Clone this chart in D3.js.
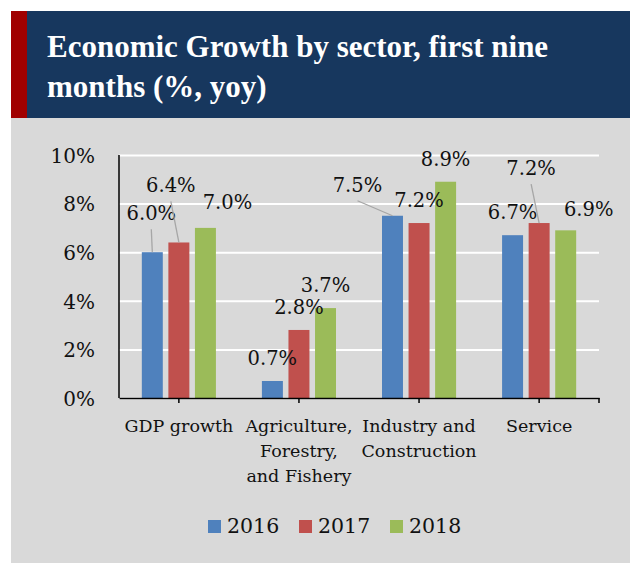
<!DOCTYPE html>
<html>
<head>
<meta charset="utf-8">
<script src="https://cdn.jsdelivr.net/npm/d3@7"></script>
<style>
  body { margin: 0; background: #fff; }
  svg { display: block; }
</style>
</head>
<body>
<svg id="chart"></svg>
<script>
// data
const categories = ['GDP growth', 'Agriculture', 'Industry', 'Service'];
const categoryLines = [
  ['GDP growth'],
  ['Agriculture,', 'Forestry,', 'and Fishery'],
  ['Industry and', 'Construction'],
  ['Service']
];
const years = ['2016', '2017', '2018'];
const values2016 = [6.0, 0.7, 7.5, 6.7];
const values2017 = [6.4, 2.8, 7.2, 7.2];
const values2018 = [7.0, 3.7, 8.9, 6.9];
const yTicks = [0, 2, 4, 6, 8, 10];

// manual label nudges [dx, dy] in px, per year then category
const labelNudge = [
  [[-1, -16], [0, 0], [-35, -8], [0, 0]],
  [[-8, -34], [0, 0], [0, 0], [-8, -32]],
  [[22, -3], [0, 0], [0, 0], [23, 2]]
];

const colors = ['#4f81bd', '#c0504d', '#9bbb59'];
const W = 630, H = 563;
const font = 'DejaVu Serif, serif';

const svg = d3.select('#chart').attr('width', W).attr('height', H);

// panel + title band
svg.append('rect').attr('x', 11).attr('y', 118).attr('width', W - 11).attr('height', H - 118).attr('fill', '#d9d9d9');
svg.append('rect').attr('x', 11).attr('y', 11).attr('width', W - 11).attr('height', 107).attr('fill', '#17375e');
svg.append('rect').attr('x', 11).attr('y', 11).attr('width', 16).attr('height', 107).attr('fill', '#a00000');

const title = svg.append('text')
  .attr('fill', '#fff')
  .attr('font-family', 'Liberation Serif, serif')
  .attr('font-weight', 'bold')
  .attr('font-size', 31);
title.append('tspan').attr('x', 47).attr('y', 57).text('Economic Growth by sector, first nine');
title.append('tspan').attr('x', 47).attr('y', 97).text('months (%, yoy)');

const margin = { left: 119, right: 599, top: 155, bottom: 398 };

const x0 = d3.scaleBand()
  .domain(categories)
  .range([margin.left, margin.right])
  .paddingInner(0.383)
  .paddingOuter(0.19);

const x1 = d3.scaleBand()
  .domain(years)
  .range([0, x0.bandwidth()])
  .paddingInner(0.21);

const y = d3.scaleLinear()
  .domain([0, 10])
  .range([margin.bottom, margin.top]);

// gridlines + y labels
const yAxis = svg.append('g')
  .attr('transform', `translate(${margin.left},0)`)
  .call(d3.axisLeft(y).tickValues(yTicks).tickFormat(d => d + '%')
    .tickSize(-(margin.right - margin.left)).tickPadding(24));
yAxis.select('.domain').remove();
yAxis.selectAll('.tick line').attr('stroke', '#fff').attr('stroke-width', 2);
yAxis.selectAll('.tick text')
  .attr('font-family', font).attr('font-size', 20).attr('fill', '#111')
  .attr('dy', '0.36em');

// bars
const series = [values2016, values2017, values2018];
const groups = svg.append('g').selectAll('g')
  .data(series)
  .join('g')
  .attr('fill', (d, i) => colors[i]);

groups.selectAll('rect')
  .data((vals, si) => vals.map((v, ci) => ({ v, ci, si })))
  .join('rect')
  .attr('x', d => x0(categories[d.ci]) + x1(years[d.si]))
  .attr('y', d => y(d.v))
  .attr('width', x1.bandwidth())
  .attr('height', d => y(0) - y(d.v));

// axis lines
svg.append('line')
  .attr('x1', margin.left).attr('x2', margin.left)
  .attr('y1', margin.top).attr('y2', margin.bottom)
  .attr('stroke', '#000').attr('stroke-width', 1.5);

const xAxis = svg.append('g')
  .attr('transform', `translate(0,${margin.bottom})`)
  .call(d3.axisBottom(x0).tickSize(5).tickSizeOuter(0).tickFormat(''));
xAxis.select('.domain').attr('stroke', '#000').attr('stroke-width', 1.5);
xAxis.selectAll('.tick line').attr('stroke', '#000').attr('stroke-width', 1.5);
xAxis.append('line')
  .attr('x1', margin.right).attr('x2', margin.right)
  .attr('y1', 0).attr('y2', 5)
  .attr('stroke', '#000').attr('stroke-width', 1.5);

// category labels
const catLabels = svg.append('g')
  .attr('font-family', font).attr('font-size', 17.5).attr('fill', '#111')
  .attr('text-anchor', 'middle');
categories.forEach((c, i) => {
  const t = catLabels.append('text').attr('y', margin.bottom + 34);
  categoryLines[i].forEach((line, li) => {
    t.append('tspan')
      .attr('x', x0(c) + x0.bandwidth() / 2)
      .attr('dy', li === 0 ? 0 : 25)
      .text(line);
  });
});

// data labels with leader lines
const labels = svg.append('g');
series.forEach((vals, si) => {
  vals.forEach((v, ci) => {
    const bx = x0(categories[ci]) + x1(years[si]) + x1.bandwidth() / 2;
    const by = y(v);
    const [dx, dy] = labelNudge[si][ci];
    const lx = bx + dx, ly = by - 16 + dy;
    if (dy < -5) {
      labels.append('line')
        .attr('x1', lx).attr('y1', ly + 9)
        .attr('x2', bx).attr('y2', by)
        .attr('stroke', '#a6a6a6').attr('stroke-width', 1.3);
    }
    labels.append('text')
      .attr('x', lx).attr('y', ly)
      .attr('text-anchor', 'middle')
      .attr('font-family', font).attr('font-size', 19.5).attr('fill', '#111')
      .text(v.toFixed(1) + '%');
  });
});

// legend
const legend = svg.append('g').attr('font-family', font).attr('font-size', 20.5).attr('fill', '#111');
years.forEach((yr, i) => {
  const lx = 208 + i * 91;
  legend.append('rect')
    .attr('x', lx).attr('y', 520).attr('width', 13).attr('height', 13)
    .attr('fill', colors[i]);
  legend.append('text')
    .attr('x', lx + 19).attr('y', 533)
    .text(yr);
});
</script>
</body>
</html>
